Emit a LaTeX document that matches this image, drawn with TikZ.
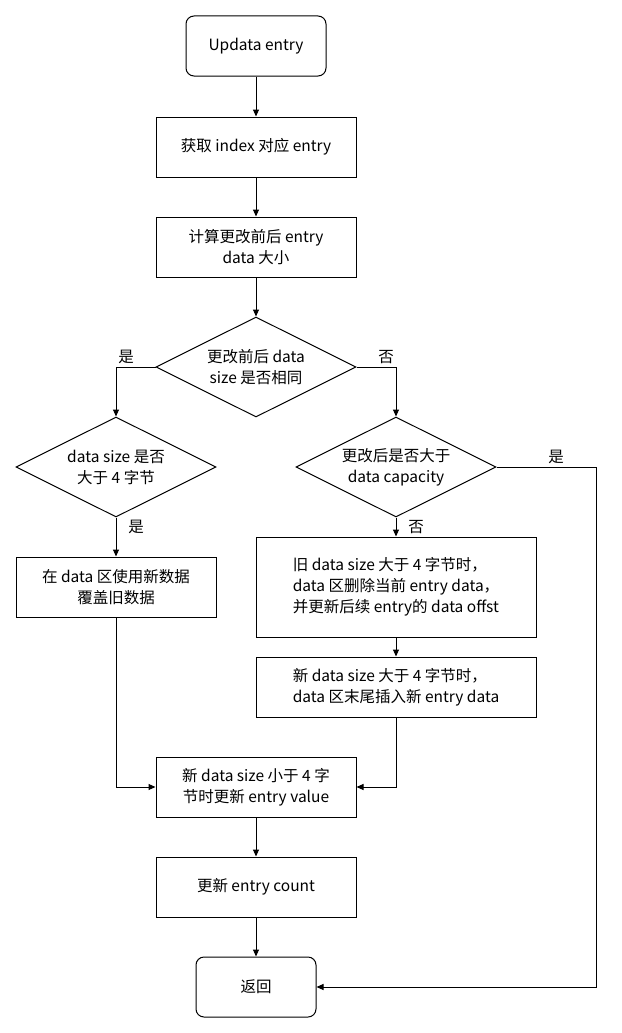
\documentclass[tikz,border=0pt]{standalone}
\usepackage{fontspec}
\setmainfont{Noto Sans CJK SC}
\usetikzlibrary{shapes.geometric,arrows.meta}
\begin{document}
\begin{tikzpicture}[x=1pt,y=-1pt,
  box/.style={draw,line width=1pt,minimum width=200pt,minimum height=60pt,align=center,inner sep=2pt,font=\fontsize{15.5}{21}\selectfont},
  rbox/.style={box,rounded corners=8pt},
  dia/.style={draw,line width=1pt,diamond,minimum width=200pt,minimum height=100pt,aspect=2,inner sep=0pt,align=center,font=\fontsize{15.5}{21}\selectfont},
  lbl/.style={font=\fontsize{15.5}{21}\selectfont},
  arr/.style={line width=1pt,-{Triangle[length=7pt,width=6pt]}}]
\useasboundingbox (0,0) rectangle (621,1033);
\node[rbox,minimum width=140pt] (start) at (256,46) {Updata entry};
\node[box] (get) at (256,147) {获取 index 对应 entry};
\node[box] (calc) at (256,247) {计算更改前后 entry\\data 大小};
\node[dia] (d1) at (256,367) {更改前后 data\\size 是否相同};
\node[dia] (d2) at (116,467) {data size 是否\\大于 4 字节};
\node[dia] (d3) at (396,467) {更改后是否大于\\data capacity};
\node[box] (ow) at (116,587) {在 data 区使用新数据\\覆盖旧数据};
\node[box,minimum width=280pt,minimum height=100pt,align=left] (del) at (396,587) {旧 data size 大于 4 字节时，\\data 区删除当前 entry data，\\并更新后续 entry的 data offst};
\node[box,minimum width=280pt,align=left] (ins) at (396,687) {新 data size 大于 4 字节时，\\data 区末尾插入新 entry data};
\node[box] (val) at (256,787) {新 data size 小于 4 字\\节时更新 entry value};
\node[box] (cnt) at (256,887) {更新 entry count};
\node[rbox,minimum width=120pt] (ret) at (256,987) {返回};
\draw[arr] (start) -- (get);
\draw[arr] (get) -- (calc);
\draw[arr] (calc) -- (d1);
\draw[arr] (d1.west) -| (d2.north);
\draw[arr] (d1.east) -| (d3.north);
\draw[arr] (d2) -- (ow);
\draw[arr] (d3) -- (del);
\draw[arr] (del) -- (ins);
\draw[arr] (ow.south) |- (val.west);
\draw[arr] (ins.south) |- (val.east);
\draw[arr] (val) -- (cnt);
\draw[arr] (cnt) -- (ret);
\coordinate (c1) at (596,467);
\draw[arr] (d3.east) -- (c1) |- (ret.east);
\node[lbl] (l1) at (126,357) {是};
\node[lbl] (l2) at (386,357) {否};
\node[lbl] (l3) at (556,457) {是};
\node[lbl] (l4) at (136,527) {是};
\node[lbl] (l5) at (416,527) {否};
\end{tikzpicture}
\end{document}
